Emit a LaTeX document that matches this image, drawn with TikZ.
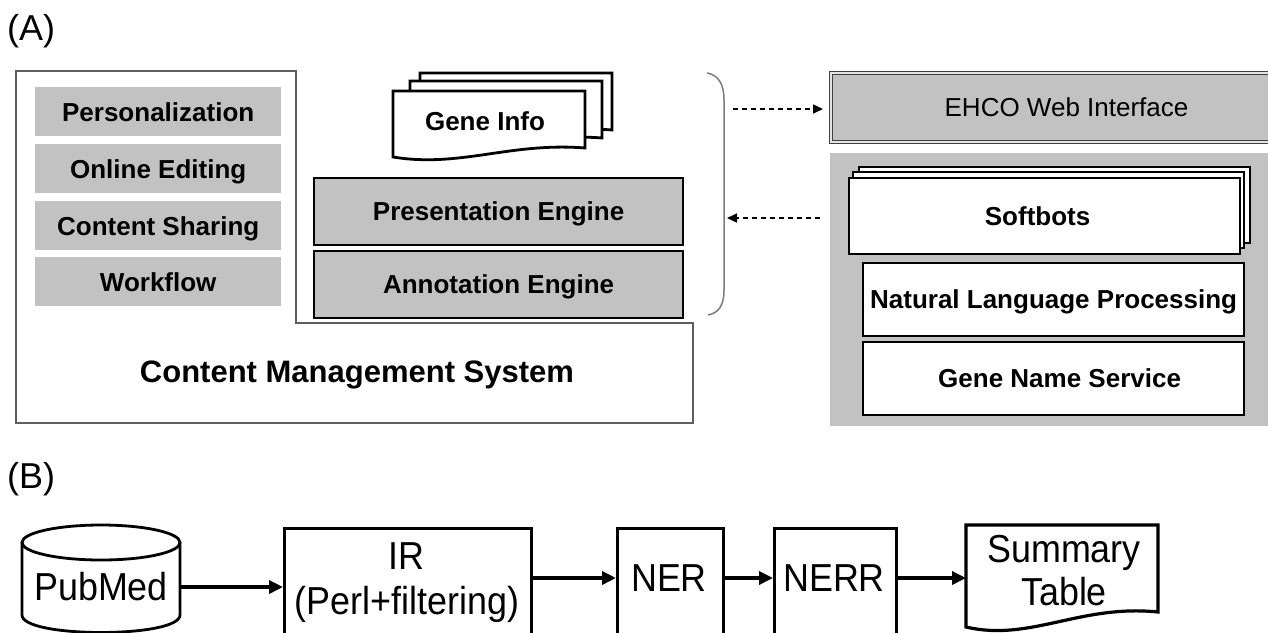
\documentclass[tikz,border=0pt]{standalone}
\usepackage{fontspec}
\setmainfont{Liberation Sans}
\newfontfamily\flowfont[FakeStretch=0.92]{Liberation Sans}
\usetikzlibrary{arrows.meta}

\definecolor{panelgray}{RGB}{194,194,194}
\definecolor{linegray}{RGB}{95,95,95}
\definecolor{bracegray}{RGB}{125,125,125}

\tikzset{
  capA/.style={font=\fontsize{26}{31}\selectfont\bfseries, text height=18.6pt, text depth=0pt, inner sep=0pt},
  capBig/.style={font=\fontsize{31}{37}\selectfont\bfseries, text height=22.2pt, text depth=0pt, inner sep=0pt},
  panellabel/.style={font=\fontsize{36}{43}\selectfont, text height=25.8pt, text depth=0pt, inner sep=0pt, anchor=west},
  graytab/.style={capA, fill=panelgray, minimum width=246pt, minimum height=49pt, anchor=north west},
  engine/.style={capA, fill=panelgray, draw=black, line width=2.2pt, minimum width=369pt, minimum height=67pt, anchor=north west},
  whitebox/.style={capA, fill=white, draw=black, line width=2.2pt, anchor=north west},
  docline/.style={draw=black, line width=2.8pt, fill=white, line join=miter},
  dasharr/.style={draw=black, line width=1.6pt, dash pattern=on 5pt off 4pt, -{Triangle[length=10pt,width=9pt]}},
  capB/.style={font=\fontsize{39}{46}\flowfont, text height=27.9pt, text depth=0pt, inner sep=0pt},
  flowbox/.style={draw=black, line width=3.2pt, fill=white, minimum height=140pt, anchor=north west, inner sep=0pt},
  flowline/.style={draw=black, line width=2.8pt, fill=white},
  flowarr/.style={draw=black, line width=3.4pt, -{Triangle[length=14pt,width=13pt]}},
}

\begin{document}
\begin{tikzpicture}[x=1pt, y=-1pt]
\clip (0,0) rectangle (1268,632);
\fill[white] (0,0) rectangle (1268,632);

% ---------- (A) ----------
\node[panellabel] (labA) at (7,27.5) {(A)};

% content management system frame
\draw[linegray, line width=2.5pt] (16,71) -- (296,71) -- (296,323) -- (693,323)
  -- (693,423) -- (16,423) -- cycle;
\node[capBig] (cms) at (357,371) {Content Management System};

% CMS modules
\node[graytab] (pers) at (35,87)  {Personalization};
\node[graytab] (edit) at (35,144) {Online Editing};
\node[graytab] (share) at (35,201) {Content Sharing};
\node[graytab] (flow) at (35,257) {Workflow};

% gene info document stack
\draw[docline, shift={(27,-18)}] (393,91) -- (585,91) -- (585,148)
  .. controls (510,142) and (460,168) .. (393,157) -- cycle;
\draw[docline, shift={(17,-10)}] (393,91) -- (585,91) -- (585,148)
  .. controls (510,142) and (460,168) .. (393,157) -- cycle;
\draw[docline] (393,91) -- (585,91) -- (585,148)
  .. controls (510,142) and (460,168) .. (393,157) -- cycle;
\node[capA] (gene) at (485,121) {Gene Info};

% engines
\node[engine] (pres) at (313,177) {Presentation Engine};
\node[engine] (anno) at (313,250) {Annotation Engine};

% bracket grouping the CMS side
\draw[bracegray, line width=1.5pt] (707,73) .. controls (719,75) and (724,85) .. (724,100)
  -- (724,290) .. controls (724,305) and (719,313) .. (708,315);
\coordinate (brT) at (724,109);
\coordinate (brB) at (724,218);

% web interface and softbot panel
\node[font=\fontsize{26}{31}\selectfont, text height=18.6pt, text depth=0pt, inner sep=0pt,
      fill=panelgray, draw=black!75, line width=1pt, double=white!55!panelgray, double distance=2pt,
      minimum width=472pt, minimum height=69pt, anchor=north west] (ehco) at (830,72) {EHCO Web Interface};
\node[fill=panelgray, minimum width=472pt, minimum height=273pt, anchor=north west, inner sep=0pt] (softpanel) at (830,153) {};

\draw[black, line width=2.2pt, fill=white] (859,167) rectangle (1250,243);
\draw[black, line width=2.2pt, fill=white] (853,172) rectangle (1244,248);
\node[whitebox, minimum width=391pt, minimum height=76pt] (soft) at (848,177) {\hspace*{-14pt}Softbots};
\node[whitebox, minimum width=381pt, minimum height=73pt] (nlp) at (862,262) {Natural Language Processing};
\node[whitebox, minimum width=381pt, minimum height=73pt] (gns) at (862,341) {\hspace*{12pt}Gene Name Service};

% dashed connectors
\draw[dasharr, shorten <=9pt, shorten >=7pt] (brT) -- (brT -| ehco.west);
\draw[dasharr, shorten <=10pt, shorten >=3pt] (brB -| softpanel.west) -- (brB);

% ---------- (B) ----------
\node[panellabel] (labB) at (7,476) {(B)};

% PubMed database
\draw[flowline] (22,542.5) -- (22,615) .. controls (22,638.3) and (180,638.3) .. (180,615) -- (180,542.5);
\draw[flowline] (101,542.5) ellipse [x radius=79, y radius=17.5];
\node[capB, minimum width=158pt] (pub) at (101,587) {PubMed};

% processing stages
\node[flowbox, minimum width=247pt] (ir) at (283,527) {};
\node[capB] (irA) at (406,556) {IR};
\node[capB] (irB) at (407,601) {(Perl+filtering)};

\node[flowbox, minimum width=106pt] (ner) at (616,527) {};
\node[capB] (nerT) at (669,578) {NER};

\node[flowbox, minimum width=122pt] (nerr) at (773,527) {};
\node[capB] (nerrT) at (834,578) {NERR};

% summary table document
\draw[flowline, line width=3.2pt, line join=miter] (966,525) -- (1158,525) -- (1158,612)
  .. controls (1080,604) and (1030,642) .. (966,627) -- cycle;
\node[minimum width=192pt, minimum height=87pt, anchor=north west, inner sep=0pt] (sum) at (966,525) {};
\node[capB] (sumA) at (1064,549) {Summary};
\node[capB] (sumB) at (1064,592) {Table};

% pipeline arrows
\draw[flowarr] (pub.east) -- (pub.east -| ir.west);
\draw[flowarr] (ir.east |- nerT) -- (ner.west |- nerT);
\draw[flowarr] (ner.east |- nerT) -- (nerr.west |- nerT);
\draw[flowarr] (nerr.east |- nerrT) -- (sum.west |- nerrT);
\end{tikzpicture}
\end{document}
